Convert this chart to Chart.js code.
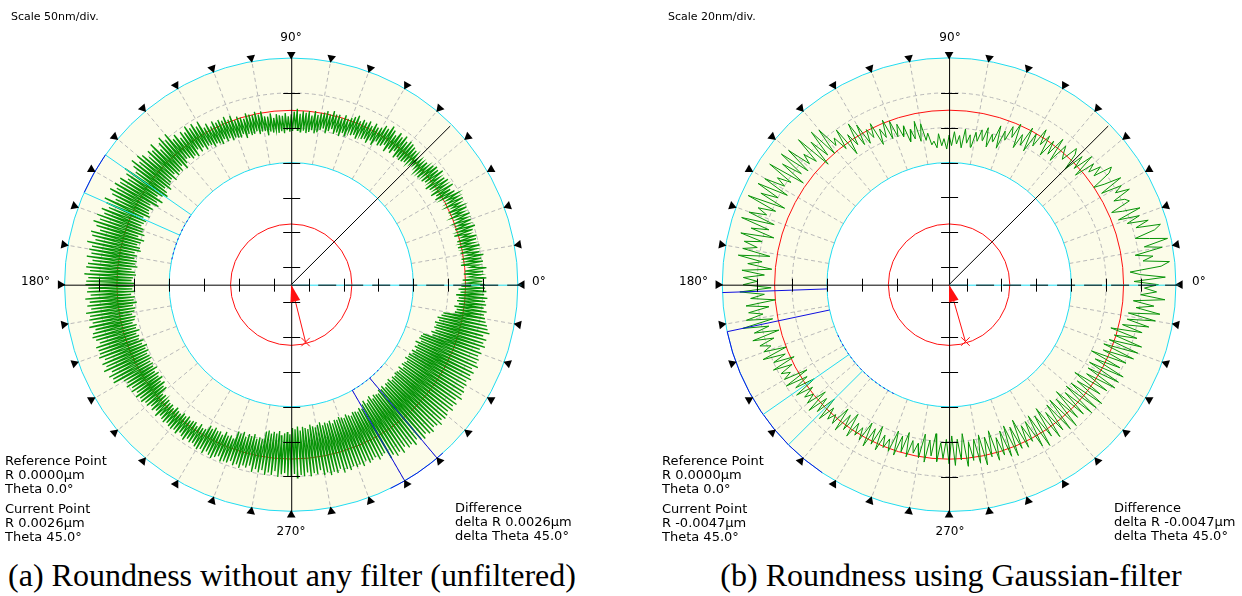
<!DOCTYPE html>
<html>
<head>
<meta charset="utf-8">
<script src="https://cdn.jsdelivr.net/npm/chart.js@4.4.0/dist/chart.umd.min.js"></script>
<style>
body { margin:0; background:#fff; width:1242px; height:596px; overflow:hidden; position:relative; }
canvas { position:absolute; top:0; }
.t { position:absolute; font-family:"DejaVu Sans", sans-serif; font-size:13px; line-height:14px; color:#000; white-space:pre; }
.s { font-size:11px; }
.a { font-size:12px; }
.c { text-align:center; width:60px; }
.cap { position:absolute; top:557px; width:640px; text-align:center; font-family:"Liberation Serif", serif; font-size:32px; line-height:36px; color:#000; white-space:pre; }
</style>
</head>
<body>
<canvas id="left" width="600" height="545" style="left:0"></canvas>
<canvas id="right" width="622" height="545" style="left:620px"></canvas>

<div class="t s" style="left:11px;top:10px">Scale 50nm/div.</div>
<div class="t a c" style="left:261px;top:30px">90°</div>
<div class="t a c" style="left:261px;top:524px">270°</div>
<div class="t a" style="left:21px;top:274px">180°</div>
<div class="t a" style="left:532px;top:274px">0°</div>
<div class="t" style="left:5px;top:454px">Reference Point
R 0.0000µm
Theta 0.0°</div>
<div class="t" style="left:5px;top:502px">Current Point
R 0.0026µm
Theta 45.0°</div>
<div class="t" style="left:455px;top:501px">Difference
delta R 0.0026µm
delta Theta 45.0°</div>

<div class="t s" style="left:668px;top:10px">Scale 20nm/div.</div>
<div class="t a c" style="left:920px;top:30px">90°</div>
<div class="t a c" style="left:920px;top:524px">270°</div>
<div class="t a" style="left:679px;top:274px">180°</div>
<div class="t a" style="left:1192px;top:274px">0°</div>
<div class="t" style="left:662px;top:454px">Reference Point
R 0.0000µm
Theta 0.0°</div>
<div class="t" style="left:662px;top:502px">Current Point
R -0.0047µm
Theta 45.0°</div>
<div class="t" style="left:1114px;top:501px">Difference
delta R -0.0047µm
delta Theta 45.0°</div>

<div class="cap" style="left:-28px">(a) Roundness without any filter (unfiltered)</div>
<div class="cap" style="left:631px">(b) Roundness using Gaussian-filter</div>

<script>
// deviation from the reference circle in nm, unfiltered, one value every 0.5 deg starting at 0 deg
const rawDevNm = [
  28,2,24,-4,30,6,22,-2,26,0,31,8,20,-5,27,3,25,-3,29,5,
  24,-3,20,2,26,-5,18,0,23,-4,25,4,16,-6,22,1,27,-2,19,3,
  24,0,20,5,26,-1,18,3,25,-2,22,6,19,-1,26,2,21,4,23,-2,
  20,-10,16,-6,23,-12,14,-3,21,-9,18,-13,12,-4,22,-8,17,-11,19,-5,
  16,-12,10,-8,12,-10,8,-6,9,-5,6,-7,10,-9,13,-11,15,-13,17,-14,
  18,-12,14,-16,20,-8,15,-14,19,-10,12,-17,17,-9,21,-13,14,-15,16,-11,
  10,-19,8,-14,12,-20,6,-16,11,-18,7,-13,9,-21,5,-17,12,-19,8,-15,
  5,-24,2,-20,6,-26,0,-22,4,-25,3,-19,7,-23,1,-27,5,-21,2,-24,
  0,-28,-3,-30,2,-26,-5,-29,1,-31,-2,-27,0,-30,-4,-28,3,-25,-1,-29,
  -5,-30,-8,-28,-3,-32,-7,-29,-6,-31,-4,-27,-9,-30,-2,-28,-6,-33,-5,-26,
  3,-26,-1,-29,4,-24,0,-27,2,-28,5,-25,-2,-30,1,-23,4,-27,0,-26,
  8,-24,4,-27,10,-22,6,-25,9,-20,7,-26,11,-23,5,-21,12,-24,8,-19,
  20,-18,15,-22,22,-16,18,-20,24,-14,17,-23,21,-19,14,-21,23,-17,19,-15,
  32,-20,25,-26,34,-18,28,-24,20,-22,35,-25,27,-19,31,-27,24,-21,33,-23,
  38,-25,30,-30,40,-22,33,-28,25,-32,41,-26,35,-20,29,-31,39,-24,36,-29,
  42,-18,36,-24,44,-20,38,-22,30,-25,45,-17,40,-23,34,-21,43,-19,37,-24,
  46,-24,40,-28,48,-20,42,-30,35,-26,47,-22,44,-27,38,-29,49,-21,41,-25,
  44,-22,40,-26,46,-24,37,-28,43,-20,45,-25,39,-27,47,-23,41,-21,44,-26,
  45,-24,41,-22,43,-26,38,-20,46,-25,40,-23,44,-27,39,-21,47,-24,42,-22,
  44,-18,40,-22,46,-20,38,-16,43,-21,45,-19,41,-23,37,-17,44,-20,42,-18,
  42,-24,45,-20,38,-26,44,-22,40,-25,46,-21,36,-23,43,-24,39,-20,41,-22,
  27,-20,24,-24,28,-18,22,-22,26,-19,20,-23,25,-17,21,-21,23,-16,19,-18,
  20,-8,16,-10,19,-6,15,-9,21,-7,16,-8,18,-5,20,-10,17,-7,19,-6,
  20,-10,18,-8,21,-11,16,-7,19,-9,22,-10,17,-6,20,-12,18,-8,21,-9,
  23,-17,20,-14,24,-18,19,-15,22,-16,25,-13,21,-19,18,-15,24,-17,22,-14,
  22,-26,18,-24,23,-28,20,-22,24,-27,19,-25,21,-29,17,-23,25,-26,20,-24,
  24,-36,20,-38,26,-34,22,-37,25,-35,19,-39,27,-33,23,-36,21,-38,25,-35,
  25,-44,22,-42,28,-46,24,-40,26,-45,21,-43,27,-41,23,-47,25,-44,20,-42,
  28,-45,25,-48,30,-43,26,-46,29,-44,24,-47,31,-42,27,-46,30,-45,26,-48,
  29,-46,27,-44,31,-48,25,-45,30,-43,28,-47,26,-46,32,-44,29,-48,27,-45,
  38,-50,35,-54,40,-48,36,-52,41,-55,34,-49,39,-53,37,-51,42,-50,36,-54,
  40,-52,43,-55,38,-50,42,-54,44,-53,39,-56,41,-51,45,-54,40,-52,43,-55,
  42,-54,39,-52,44,-56,40,-50,43,-55,38,-53,45,-51,41,-56,42,-53,39,-54,
  40,-50,37,-53,42,-48,38,-52,41,-49,36,-54,43,-47,39,-51,40,-50,37,-48,
  40,-35,36,-38,42,-33,38,-36,41,-34,35,-37,43,-32,39,-35,37,-30,34,-28,
  32,-12,30,-10,33,-14,28,-8,31,-11,29,-9,32,-13,27,-7,30,-10,28,-6
];

// deviation in nm after the gaussian filter, one value per degree starting at 0 deg
const filteredDevNm = [
  20,6,24,10,4,22,27,12,18,8,
  24,14,28,18,10,22,26,12,20,8,
  16,4,18,8,2,14,12,6,17,9,
  14,2,16,6,0,12,15,4,10,3,
  8,-4,10,-2,6,-6,4,7,-3,0,
  4,-8,6,-6,2,-9,3,-4,5,-7,
  0,-12,2,-10,-4,-13,1,-8,-2,-11,
  -6,-17,-4,-14,-10,-18,-7,-15,-9,-16,
  -11,-20,-13,-18,-10,-21,-14,-19,-12,-20,
  -14,-22,-16,-20,-13,-21,-17,-19,-12,-16,
  -6,-16,-4,-14,-8,-15,-5,-11,-3,-10,
  0,-10,2,-8,-2,-11,3,-5,1,-7,
  6,-6,9,-4,4,-8,10,-2,7,3,
  16,0,18,2,14,-2,20,4,12,6,
  20,4,22,6,18,2,24,8,16,10,
  22,6,24,10,20,4,26,8,18,12,
  22,6,25,8,18,4,23,10,20,12,
  20,4,22,8,16,2,19,6,18,10,
  18,2,20,6,14,0,17,4,16,8,
  18,3,21,6,15,1,17,5,14,8,
  13,0,15,2,10,-2,12,1,9,4,
  9,-5,10,-3,6,-6,8,-2,5,0,
  6,-6,8,-4,5,-7,7,-3,4,-1,
  4,-8,6,-6,3,-9,5,-5,2,-4,
  3,-9,5,-7,2,-10,4,-6,1,-5,
  2,-11,3,-9,0,-12,2,-8,-1,-7,
  1,-13,3,-10,-1,-14,2,-9,0,-11,
  3,-13,4,-11,1,-14,5,-9,2,-10,
  4,-12,6,-10,2,-13,5,-8,3,-11,
  5,-13,6,-11,3,-14,4,-9,2,-10,
  7,-12,9,-10,5,-13,8,-8,6,-11,
  8,-12,9,-10,6,-13,7,-9,10,-11,
  10,-10,11,-8,7,-12,9,-6,12,-7,
  12,-8,13,-6,9,-10,11,-4,14,-5,
  15,-3,16,-1,12,-4,14,2,17,4,
  20,4,22,8,18,6,24,10,19,12
];

const sampleStepDeg = [0.5, 1];
const nmPerDiv = [50, 20];
const refRadiusDiv = 5;          // red reference circle
const bandRadiiDiv = [3.5, 6.5];  // inner and outer cyan circles
const gridRadiiDiv = [4.5, 5.5];
const tickDiv = [0.5, 1.5, 2.5, 3.5, 4.5, 5.5];
const markerAngles = [0,10,20,30,40,50,60,70,80,90,100,110,120,130,140,150,160,170,
                      180,190,200,210,220,230,240,250,260,270,280,290,300,310,320,330,340,350];
const cursorAngle = 45;
const arrowAngle = [284, 286];
const cyanSpokes = [[145, 156], [215, 225]];
const blueSpokes = [[300, 310], [182, 192]];
const blueOuterArcs = [[[145, 156], [296, 312]], [[192, 236]]];
const blueInnerArcs = [[[145, 168], [300, 318]], [[203, 243]]];

const PX_PER_DIV = 35.7;
const CYAN = '#21dcf2', BLUE = '#1010e0', RED = '#ff1010', GREEN = '#089408';

function pol(r, deg) {
  const a = deg * Math.PI / 180;
  return { x: r * Math.cos(a), y: r * Math.sin(a) };
}

const polarDecor = {
  id: 'polarDecor',
  beforeDatasetsDraw(chart, args, o) {
    const ctx = chart.ctx, xs = chart.scales.x, ys = chart.scales.y;
    const cx = xs.getPixelForValue(0), cy = ys.getPixelForValue(0);
    const k = xs.getPixelForValue(1) - cx;
    const R = d => d * Math.PI / 180;
    ctx.save();
    ctx.beginPath();
    ctx.arc(cx, cy, bandRadiiDiv[1] * k, 0, Math.PI * 2);
    ctx.arc(cx, cy, bandRadiiDiv[0] * k, 0, Math.PI * 2, true);
    ctx.fillStyle = '#fcfce9';
    ctx.fill();

    ctx.strokeStyle = '#b9b9b9';
    ctx.lineWidth = 1;
    ctx.setLineDash([4, 3]);
    gridRadiiDiv.forEach(r => {
      ctx.beginPath(); ctx.arc(cx, cy, r * k, 0, Math.PI * 2); ctx.stroke();
    });
    markerAngles.forEach(a => {
      if (a % 90 === 0) return;
      ctx.beginPath();
      ctx.moveTo(cx + bandRadiiDiv[0] * k * Math.cos(R(a)), cy - bandRadiiDiv[0] * k * Math.sin(R(a)));
      ctx.lineTo(cx + bandRadiiDiv[1] * k * Math.cos(R(a)), cy - bandRadiiDiv[1] * k * Math.sin(R(a)));
      ctx.stroke();
    });
    ctx.setLineDash([]);

    const ring = (r, col) => {
      ctx.strokeStyle = col; ctx.beginPath(); ctx.arc(cx, cy, r * k, 0, Math.PI * 2); ctx.stroke();
    };
    ring(bandRadiiDiv[1], CYAN);
    ring(bandRadiiDiv[0], CYAN);
    ring(refRadiusDiv, RED);
    ring(o.smallR, RED);

    ctx.strokeStyle = BLUE;
    o.outerArcs.forEach(([a1, a2]) => {
      ctx.beginPath(); ctx.arc(cx, cy, bandRadiiDiv[1] * k, -R(a2), -R(a1)); ctx.stroke();
    });
    ctx.setLineDash([2, 3]);
    o.innerArcs.forEach(([a1, a2]) => {
      ctx.beginPath(); ctx.arc(cx, cy, bandRadiiDiv[0] * k, -R(a2), -R(a1)); ctx.stroke();
    });
    ctx.restore();
  },
  afterDatasetsDraw(chart, args, o) {
    const ctx = chart.ctx, xs = chart.scales.x, ys = chart.scales.y;
    const cx = xs.getPixelForValue(0), cy = ys.getPixelForValue(0);
    const k = xs.getPixelForValue(1) - cx;
    const ext = 6.6;
    ctx.save();
    ctx.lineWidth = 1;
    ctx.strokeStyle = '#000';
    ctx.beginPath();
    ctx.moveTo(cx + 0.5, cy - 6.55 * k); ctx.lineTo(cx + 0.5, cy + 6.55 * k);
    ctx.moveTo(cx - ext * k, cy + 0.5); ctx.lineTo(cx, cy + 0.5);
    ctx.stroke();
    ctx.strokeStyle = CYAN;
    ctx.beginPath(); ctx.moveTo(cx, cy + 0.5); ctx.lineTo(cx + ext * k, cy + 0.5); ctx.stroke();
    ctx.strokeStyle = '#000';
    ctx.setLineDash([18, 9]);
    ctx.beginPath(); ctx.moveTo(cx, cy + 0.5); ctx.lineTo(cx + ext * k, cy + 0.5); ctx.stroke();
    ctx.setLineDash([]);
    ctx.beginPath();
    tickDiv.forEach(t => {
      [-1, 1].forEach(s => {
        const px = Math.round(cx + s * t * k) + 0.5;
        ctx.moveTo(px, cy - 6); ctx.lineTo(px, cy + 7);
        const py = Math.round(cy - s * t * k) + 0.5;
        ctx.moveTo(cx - 8, py); ctx.lineTo(cx + 9, py);
      });
    });
    ctx.stroke();

    // arrow head at the centre, pointing back along the cursor vector
    const a = o.arrow * Math.PI / 180;
    const ux = Math.cos(a), uy = -Math.sin(a);
    const L = 17, W = 5;
    ctx.fillStyle = RED;
    ctx.beginPath();
    ctx.moveTo(cx, cy);
    ctx.lineTo(cx + ux * L - uy * W, cy + uy * L + ux * W);
    ctx.lineTo(cx + ux * L + uy * W, cy + uy * L - ux * W);
    ctx.closePath();
    ctx.fill();
    ctx.restore();
  }
};

function buildChart(id, idx, devNm, centerPx, size, lineW) {
  const step = sampleStepDeg[idx];
  const profile = devNm.map((v, i) => pol(refRadiusDiv + v / nmPerDiv[idx], i * step));
  profile.push(profile[0]);

  const markers = markerAngles.map(a => pol(6.62, a));
  const rotations = markerAngles.map(a => 270 - a);

  const spoke = (a, col) => ({
    data: [pol(bandRadiiDiv[0], a), pol(bandRadiiDiv[1], a)],
    showLine: true, borderColor: col, borderWidth: 1, pointRadius: 0, order: 2
  });

  const datasets = [
    { data: markers, pointStyle: 'triangle', rotation: rotations, pointRadius: 5,
      backgroundColor: '#000', borderColor: '#000', borderWidth: 0, showLine: false, order: 0 },
    { data: [pol(0, 0), pol(6.45, cursorAngle)], showLine: true, borderColor: '#000',
      borderWidth: 1, pointRadius: 0, order: 1 },
    { data: [pol(0, 0), pol(1.7, arrowAngle[idx])], showLine: true, borderColor: RED,
      borderWidth: 1, pointRadius: [0, 6], pointStyle: 'crossRot', pointBorderColor: RED,
      pointBorderWidth: 1, order: 1 },
    ...cyanSpokes[idx].map(a => spoke(a, CYAN)),
    ...blueSpokes[idx].map(a => spoke(a, BLUE)),
    { data: profile, showLine: true, borderColor: GREEN, borderWidth: lineW, pointRadius: 0,
      tension: 0, order: 5 }
  ];

  return new Chart(document.getElementById(id), {
    type: 'scatter',
    data: { datasets: datasets },
    options: {
      responsive: false,
      animation: false,
      events: [],
      layout: { padding: 0 },
      plugins: {
        legend: { display: false },
        tooltip: { enabled: false },
        polarDecor: { smallR: 1.74, arrow: arrowAngle[idx],
                      outerArcs: blueOuterArcs[idx], innerArcs: blueInnerArcs[idx] }
      },
      scales: {
        x: { type: 'linear', display: false, min: -centerPx[0] / PX_PER_DIV, max: (size[0] - centerPx[0]) / PX_PER_DIV },
        y: { type: 'linear', display: false, min: -(size[1] - centerPx[1]) / PX_PER_DIV, max: centerPx[1] / PX_PER_DIV }
      }
    },
    plugins: [polarDecor]
  });
}

buildChart('left', 0, rawDevNm, [291, 285], [600, 545], 1.3);
buildChart('right', 1, filteredDevNm, [329.5, 285], [622, 545], 1);
</script>
</body>
</html>
